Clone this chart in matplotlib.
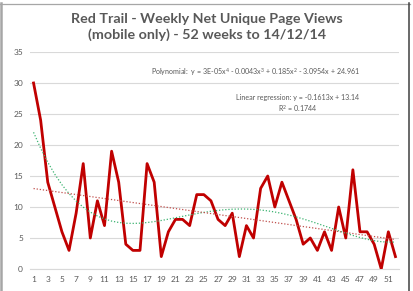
import numpy as np
import matplotlib
matplotlib.use("Agg")
import matplotlib.pyplot as plt
from matplotlib.lines import Line2D

# weekly net unique page views (mobile only), weeks 1..52
weeks = np.arange(1, 53)
views = [30, 24, 14, 10, 6, 3, 9, 17, 5, 11,
         7, 19, 14, 4, 3, 3, 17, 14, 2, 6,
         8, 8, 7, 12, 12, 11, 8, 7, 9, 2,
         7, 5, 13, 15, 10, 14, 11, 8, 4, 5,
         3, 6, 3, 10, 5, 16, 6, 6, 4, 0,
         6, 2]
yticks = [0, 5, 10, 15, 20, 25, 30, 35]
xtick_labels = [str(w) for w in weeks[::2]]

title = "Red Trail - Weekly Net Unique Page Views\n(mobile only) - 52 weeks to 14/12/14"
poly_text = "Polynomial:  y = 3E-05x$^4$ - 0.0043x$^3$ + 0.185x$^2$ - 3.0954x + 24.961"
lin_text = "Linear regression: y = -0.1613x + 13.14\nR$^2$ = 0.1744"

plt.rcParams['font.family'] = ['Lato', 'DejaVu Sans']
plt.rcParams['mathtext.fontset'] = 'custom'
plt.rcParams['mathtext.rm'] = 'Lato'
grey = "#595959"

fig = plt.figure(figsize=(4.14, 2.91), dpi=100)
ax = fig.add_axes([30 / 414, 22 / 291, 369 / 414, 217 / 291])

# trend lines fitted from the data
lin = np.polyfit(weeks, views, 1)
poly = np.polyfit(weeks, views, 4)

ax.plot(weeks, views, color="#C00000", lw=2.0, zorder=3)
ax.plot(weeks, np.polyval(poly, weeks), color="#3CB371", lw=0.9, ls=(0, (1, 1.5)), zorder=4)
ax.plot(weeks, np.polyval(lin, weeks), color="#C0504D", lw=0.9, ls=(0, (1, 1.5)), zorder=4)

ax.set_xlim(0.5, 52.5)
ax.set_ylim(0, 35)
ax.set_yticks(yticks)
ax.set_xticks(weeks[::2])
ax.set_xticklabels(xtick_labels)
ax.grid(axis="y", color="#D9D9D9", lw=0.8)
ax.set_axisbelow(True)
for s in ["top", "right", "left"]:
    ax.spines[s].set_visible(False)
ax.spines["bottom"].set_color("#D9D9D9")
ax.tick_params(axis="both", length=0, labelsize=6, colors=grey, pad=5)

fig.text(0.5, 1 - 27 / 291, title, ha="center", va="center", fontsize=10.3, fontweight="bold",
         color=grey, linespacing=1.4)
ax.text(0.61, 0.906, poly_text, transform=ax.transAxes, ha="center", va="center",
        fontsize=5.1, color=grey)
ax.text(0.725, 0.76, lin_text, transform=ax.transAxes, ha="center", va="center",
        fontsize=5.1, color=grey, linespacing=1.2)

# chart frame
fig.add_artist(Line2D([1 / 414, 1 / 414], [0, 1 - 3 / 291], color="#A6A6A6", lw=1.8))
fig.add_artist(Line2D([0, 410 / 414], [1 - 3.5 / 291, 1 - 3.5 / 291], color="#A6A6A6", lw=0.9))
fig.add_artist(Line2D([409.5 / 414, 409.5 / 414], [0, 1 - 3 / 291], color="#404040", lw=1.1))

fig.savefig("out.png", dpi=100)
